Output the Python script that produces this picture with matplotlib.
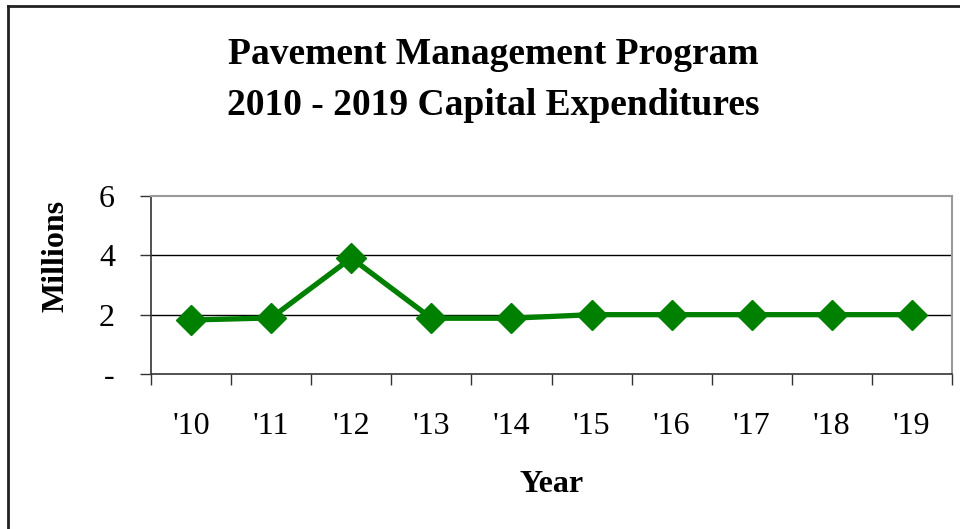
import numpy as np
import matplotlib
matplotlib.use("Agg")
import matplotlib.pyplot as plt
from matplotlib.lines import Line2D

# Data (millions of dollars)
years = ["'10", "'11", "'12", "'13", "'14", "'15", "'16", "'17", "'18", "'19"]
spending = [1.82, 1.89, 3.91, 1.88, 1.88, 2.0, 2.0, 2.0, 2.0, 2.0]
y_ticks = [0, 2, 4, 6]
y_tick_labels = ["-", "2", "4", "6"]

plt.rcParams['font.family'] = ['Liberation Serif', 'DejaVu Serif']

fig = plt.figure(figsize=(9.6, 5.29), dpi=100)
ax = fig.add_axes([151 / 960, 1 - 374 / 529, 801 / 960, 178 / 529])

x = np.arange(len(years))
ax.plot(x, spending, color='#008000', linewidth=3.8, marker='D',
        markersize=15, markeredgecolor='#008000', zorder=3, clip_on=False)

ax.set_xlim(-0.5, len(years) - 0.5)
ax.set_ylim(0, 6)

# gridlines
for v in y_ticks[1:-1]:
    ax.axhline(v, color='black', linewidth=1.0, zorder=1)

ax.set_yticks(y_ticks)
ax.set_yticklabels(y_tick_labels, fontsize=23)
ax.tick_params(axis='y', direction='out', length=8, width=1, color='#333333', pad=18)

# ticks at category boundaries, labels at centres
ax.set_xticks(np.arange(len(years) + 1) - 0.5)
ax.set_xticklabels([])
ax.set_xticks(x, minor=True)
ax.set_xticklabels(years, minor=True, fontsize=23)
ax.tick_params(axis='x', which='major', direction='out', length=8, width=1, color='#333333')
ax.tick_params(axis='x', which='minor', length=0, pad=27)

for side in ['top', 'right']:
    ax.spines[side].set_color('#999999')
    ax.spines[side].set_linewidth(1.5)
for side in ['left', 'bottom']:
    ax.spines[side].set_color('#333333')
    ax.spines[side].set_linewidth(1.2)

fig.text(0.5135, 1 - 64 / 529, "Pavement Management Program", ha='center', va='baseline',
         fontsize=27, fontweight='bold')
fig.text(0.5135, 1 - 115 / 529, "2010 - 2019 Capital Expenditures", ha='center', va='baseline',
         fontsize=27, fontweight='bold')
fig.text(56 / 960, 1 - 256 / 529, "Millions", rotation=90, ha='center', va='center',
         fontsize=23, fontweight='bold')
fig.text(552 / 960, 1 - 492 / 529, "Year", ha='center', va='baseline',
         fontsize=23, fontweight='bold')

# chart border (left and top edges visible)
fig.add_artist(Line2D([8 / 960, 8 / 960], [0, 1 - 6 / 529], color='#222222', linewidth=2))
fig.add_artist(Line2D([8 / 960, 1], [1 - 6 / 529, 1 - 6 / 529], color='#222222', linewidth=2))

fig.savefig('out.png', dpi=100)
